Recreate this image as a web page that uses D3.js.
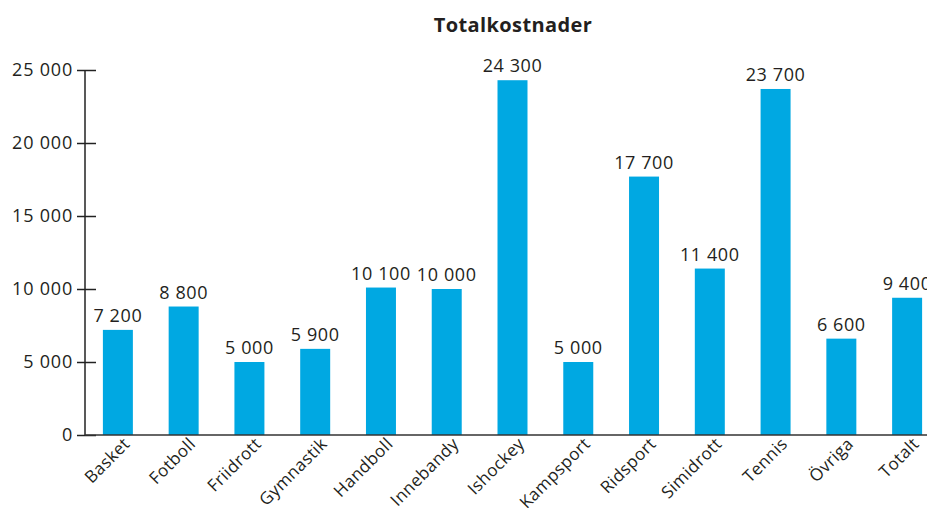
<!DOCTYPE html>
<html>
<head>
<meta charset="utf-8">
<title>Totalkostnader</title>
<script src="https://cdn.jsdelivr.net/npm/d3@7"></script>
<style>
  body { margin: 0; background: #fff; }
  text { font-family: "Open Sans", Lato, sans-serif; fill: #231f20; }
</style>
</head>
<body>
<script>
// data
var categories = ["Basket", "Fotboll", "Friidrott", "Gymnastik", "Handboll", "Innebandy",
  "Ishockey", "Kampsport", "Ridsport", "Simidrott", "Tennis", "Övriga", "Totalt"];
var values = [7200, 8800, 5000, 5900, 10100, 10000, 24300, 5000, 17700, 11400, 23700, 6600, 9400];
var yTicks = [0, 5000, 10000, 15000, 20000, 25000];

var width = 927, height = 508;
var left = 85, top0 = 70, bottom = 435;

var fmt = d3.formatLocale({ decimal: ",", thousands: " ", grouping: [3], currency: ["", ""] }).format(",");

var svg = d3.select("body").append("svg")
  .attr("width", width)
  .attr("height", height);

var x = d3.scaleBand()
  .domain(categories)
  .range([left, 940])
  .paddingInner(0.544)
  .paddingOuter(0.272);

var y = d3.scaleLinear()
  .domain([0, 25000])
  .range([bottom, top0]);

// title
svg.append("text")
  .attr("x", 513)
  .attr("y", 32)
  .attr("text-anchor", "middle")
  .style("font-size", "20px")
  .style("font-weight", "bold")
  .style("letter-spacing", "0.4px")
  .text("Totalkostnader");

// bars
svg.selectAll(".bar")
  .data(values)
  .enter().append("rect")
  .attr("class", "bar")
  .attr("x", function(d, i) { return x(categories[i]); })
  .attr("width", x.bandwidth())
  .attr("y", function(d) { return y(d); })
  .attr("height", function(d) { return bottom - y(d); })
  .style("fill", "#00a8e2");

// value labels
svg.selectAll(".val")
  .data(values)
  .enter().append("text")
  .attr("class", "val")
  .attr("x", function(d, i) { return x(categories[i]) + x.bandwidth() / 2; })
  .attr("y", function(d) { return y(d) - 8; })
  .attr("text-anchor", "middle")
  .style("font-size", "18px")
  .style("letter-spacing", "0.6px")
  .text(function(d) { return fmt(d); });

// y axis
var yAxis = svg.append("g")
  .attr("transform", "translate(" + left + ",0)")
  .call(d3.axisLeft(y).tickValues(yTicks).tickFormat(fmt).tickSize(8).tickPadding(5));
yAxis.select(".domain").attr("stroke", "#222").attr("stroke-width", 1.5)
  .attr("d", "M0," + top0 + "V" + bottom);
yAxis.selectAll(".tick line").attr("stroke", "#222").attr("stroke-width", 1.5)
  .attr("x1", 11).attr("x2", -8);
yAxis.selectAll(".tick text")
  .style("font-size", "18px")
  .style("letter-spacing", "0.8px")
  .attr("x", -12)
  .attr("fill", "#231f20");

// x axis
var xAxis = svg.append("g")
  .attr("transform", "translate(0," + bottom + ")")
  .call(d3.axisBottom(x).tickSize(0).tickPadding(0));
xAxis.select(".domain").attr("stroke", "#333").attr("stroke-width", 1.5)
  .attr("d", "M" + left + ",0H" + width);
xAxis.selectAll(".tick text")
  .style("font-size", "17px")
  .style("letter-spacing", "0.4px")
  .attr("text-anchor", "end")
  .attr("dy", 0)
  .attr("transform", "translate(13,10) rotate(-45)");
</script>
</body>
</html>
